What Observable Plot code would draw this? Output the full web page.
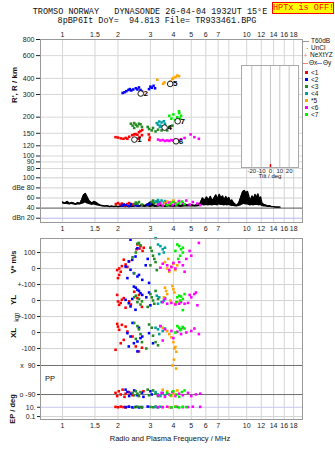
<!DOCTYPE html>
<html><head><meta charset="utf-8">
<script src="https://cdn.jsdelivr.net/npm/d3@7"></script>
<script src="https://cdn.jsdelivr.net/npm/@observablehq/plot@0.6"></script>
<style>
body{margin:0;background:#fff;}
#root{position:relative;width:335px;height:451px;overflow:hidden;font-family:"Liberation Sans",Arial,sans-serif;color:#111;}
#root svg{position:absolute;}
.t{position:absolute;white-space:pre;line-height:1;}
</style></head><body><div id="root"></div>
<script>
// ---------- data ----------
const seriesNames = ["<1","<2","<3","<4","*5","<6","<7"];
const seriesColors = ["#ff0000","#0000ff","#228b22","#00a0a0","#ffa500","#ff00ff","#00ee00"];
const freqTicksTop = [1,1.5,2,3,4,5,6,7,8,10,12,14,16,18];
const freqTicksMid = [1,1.5,2,3,4,5,6,7,8,9,10,12,14,16,18];
const freqGrid = [1,1.5,2,3,4,5,6,7,8,10,12,14,16,18];
const rangeTicks = [800,600,400,300,200,150,120,100,90,80];
const dbTicks = [100,80,60,40,20];
const dbTickLabels = ["100","dBe 80","60","40","dBn 20"];
const tiltTicks = [-20,-10,0,10,20];
const tiltValues = [0];

// virtual R' (km) per series: [series, f MHz, R km]
const rangeData = [
 [1,1.94,140],[1,2.0,139],[1,2.07,137],[1,2.14,136],[1,2.2,138],[1,2.25,136],[1,2.3,141],[1,2.39,145],[1,2.45,147],[1,2.49,148],[1,2.55,146],[1,2.6,153],[1,2.65,156],[1,2.71,159],[1,2.62,140],[1,2.7,145],[1,2.94,147],[1,2.98,139],[1,2.96,133],[1,2.58,136],
 [2,2.12,308],[2,2.17,312],[2,2.22,318],[2,2.28,325],[2,2.32,330],[2,2.36,322],[2,2.5,335],[2,2.55,328],[2,2.6,340],[2,2.65,325],[2,2.7,316],[2,2.95,330],[2,3.0,345],[2,3.05,338],[2,3.12,350],[2,3.18,335],[2,2.42,328],
 [3,2.35,178],[3,2.4,172],[3,2.45,180],[3,2.5,175],[3,2.55,170],[3,2.6,178],[3,2.65,176],[3,2.7,168],[3,2.45,165],[3,2.9,168],[3,2.95,162],[3,3.05,158],[3,3.1,165],[3,3.2,155],[3,3.3,160],[3,3.45,158],[3,3.6,162],[3,3.8,168],[3,3.95,172],[3,3.7,158],
 [4,3.25,180],[4,3.3,175],[4,3.35,185],[4,3.4,172],[4,3.45,182],[4,3.5,170],[4,3.55,186],[4,3.6,178],[4,3.38,168],
 [5,3.27,390],[5,3.52,363],[5,3.58,372],[5,3.86,379],[5,3.94,396],[5,4.11,410],[5,4.29,416],[5,4.2,420],[5,4.0,402],
 [6,3.3,134],[6,3.4,132],[6,3.5,133],[6,3.6,131],[6,3.7,132],[6,3.8,131],[6,3.9,133],[6,4.0,132],[6,4.1,134],[6,4.25,133],[6,4.4,135],[6,4.6,138],[6,4.96,147],[6,5.2,140],[6,5.5,136],
 [7,3.8,205],[7,3.9,195],[7,4.0,210],[7,4.1,190],[7,4.2,200],[7,4.3,215],[7,4.35,195],[7,4.4,205],[7,4.2,185],[7,4.29,222]
];
// trace labels: [series, f, R]
const traceLabels = [[1,2.55,134],[2,2.76,305],[4,3.72,166],[5,3.99,362],[6,4.29,130],[7,4.38,186]];

// noise (black) amplitude envelope
const noiseF  = [1.00,1.03,1.06,1.09,1.12,1.15,1.18,1.21,1.24,1.27,1.30,1.33,1.36,1.39,1.42,1.45,1.48,1.51,1.55,1.60,1.65,1.70,1.75,1.80,1.85,1.90,1.95,2.00,2.1,2.2,2.3,2.4,2.5,2.6,2.7,2.8,2.9,3.0,3.1,3.2,3.4,3.6,3.8,4.0,4.2,4.4,4.6,4.8,5.0,5.2,5.4,5.6,5.75,5.9,6.05,6.2,6.35,6.5,6.65,6.8,6.95,7.1,7.25,7.4,7.55,7.7,7.85,8.0,8.15,8.3,8.5,8.7,8.9,9.1,9.3,9.5,9.7,9.9,10.1,10.3,10.5,10.7,10.9,11.1,11.3,11.5,11.7,11.9,12.1,12.4,12.7,13.0,13.3,13.6,14.0,14.4,14.8,15.2];
const noiseHi = [52,50,53,49,51,50,48,51,49,56,66,69,62,55,52,50,53,52,49,46,45,44,45,43,44,43,44,43,44,43,45,44,46,44,47,45,48,52,47,45,46,44,46,45,47,45,48,46,47,45,47,50,60,55,62,56,63,54,60,66,58,67,60,64,55,63,57,61,53,56,50,47,46,52,62,72,75,70,73,62,55,64,58,67,60,68,58,62,50,47,46,44,45,43,43,42,42,42];
const noiseLo = [48,47,47,46,47,46,45,46,46,47,48,50,48,47,46,45,46,45,44,43,42,42,42,41,42,41,41,41,41,41,41,41,42,41,42,41,42,41,42,41,42,41,42,41,42,41,42,42,42,42,42,43,45,44,45,44,45,44,45,45,44,46,45,45,44,45,44,45,44,43,43,42,42,43,44,46,47,46,46,45,44,45,44,45,45,45,44,45,43,42,42,41,41,41,41,40,40,40];

// echo amplitudes: [series, f, dB]
const ampData = [
 [1,1.95,48],[1,2.0,50],[1,2.05,47],[1,2.1,49],[1,2.15,46],[1,2.25,48],[1,2.3,50],[1,2.4,47],[1,2.2,45],
 [2,2.1,45],[2,2.15,47],[2,2.2,46],[2,2.3,44],[2,2.35,48],[2,2.45,46],[2,2.55,45],[2,2.9,47],[2,3.0,49],
 [3,2.45,48],[3,2.5,51],[3,2.55,49],[3,2.6,52],[3,2.7,47],[3,3.05,52],[3,3.1,55],[3,3.15,50],[3,3.25,53],[3,3.3,49],
 [4,3.2,53],[4,3.3,56],[4,3.35,52],[4,3.45,55],[4,3.55,51],[4,3.6,54],
 [5,3.6,50],[5,3.7,53],[5,3.8,48],[5,3.9,52],[5,4.0,55],[5,4.1,50],[5,4.25,53],
 [6,3.3,47],[6,3.4,50],[6,3.5,45],[6,3.65,48],[6,3.8,51],[6,3.95,46],[6,4.1,49],[6,4.3,54],[6,4.5,50],[6,4.7,55],[6,4.9,47],[6,5.1,52],[6,5.4,49],[6,5.6,46],
 [7,3.7,46],[7,3.85,49],[7,4.0,52],[7,4.15,47],[7,4.3,50],[7,4.45,53],[7,4.6,48]
];

// Doppler V* (m/s): [series, f, V*]
const vStarData = [
 [1,2.52,120],[1,2.62,125],[1,2.72,110],[1,2.76,130],[1,2.65,140],[1,2.55,150],[1,2.2,25],[1,2.25,10],[1,2.1,15],[1,2.03,0],[1,1.98,-10],[1,2.03,-40],[1,2.0,-60],[1,2.07,-20],[1,2.3,45],[1,2.15,55],
 [2,2.34,180],[2,2.55,127],[2,2.49,75],[2,2.39,54],[2,2.29,44],[2,2.2,12],[2,2.34,-8],[2,2.44,-29],[2,2.55,-50],[2,2.6,-40],[2,2.71,-71],[2,2.25,-60],[2,2.83,20],[2,2.95,-90],[2,2.9,60],
 [3,2.55,155],[3,2.6,160],[3,2.65,145],[3,2.5,100],[3,2.4,70],[3,3.0,130],[3,3.05,110],[3,3.1,80],[3,3.15,60],[3,3.2,40],[3,3.0,20],[3,3.25,-10],[3,2.45,-30],
 [4,3.2,190],[4,3.3,150],[4,3.4,140],[4,3.5,120],[4,3.55,100],[4,3.6,130],[4,3.35,90],
 [5,3.6,40],[5,3.7,0],[5,3.8,-20],[5,3.9,10],[5,4.0,30],[5,4.1,-10],[5,3.75,60],[5,4.2,20],
 [6,3.5,30],[6,3.7,20],[6,3.9,10],[6,4.1,0],[6,4.3,40],[6,4.5,20],[6,4.7,60],[6,4.9,110],[6,5.5,160],[6,3.4,5],[6,3.8,-10],[6,4.0,35],[6,4.6,-20],[6,5.0,80],
 [7,4.2,150],[7,4.3,140],[7,4.4,120],[7,4.5,100],[7,4.35,80],[7,4.25,60],[7,4.5,130],[7,4.1,110]
];
// YL (m/s)
const ylData = [
 [1,1.98,35],[1,2.0,-6],[1,2.03,-27],[1,2.07,-15],[1,2.1,5],[1,2.15,15],[1,2.3,-5],[1,2.35,-25],[1,2.55,15],[1,2.6,35],[1,2.45,55],[1,2.7,-40],[1,2.2,-45],
 [2,2.44,87],[2,2.5,80],[2,2.55,67],[2,2.6,60],[2,2.65,46],[2,2.71,35],[2,2.2,4],[2,2.29,-17],[2,2.34,-37],[2,2.49,-58],[2,2.39,10],[2,2.95,50],[2,3.0,-30],[2,2.85,20],
 [3,2.5,30],[3,2.6,10],[3,2.55,-10],[3,2.65,-25],[3,2.7,-5],[3,2.45,20],[3,3.0,40],[3,3.05,20],[3,3.1,0],[3,3.15,-20],[3,3.2,60],[3,2.9,-40],[3,3.3,10],
 [4,3.25,30],[4,3.35,20],[4,3.45,-10],[4,3.55,0],[4,3.3,-20],[4,3.6,15],
 [5,3.6,80],[5,3.65,60],[5,3.7,40],[5,3.95,90],[5,4.0,70],[5,4.05,50],[5,3.85,0],[5,4.1,-20],[5,3.55,20],[5,4.2,-10],
 [6,3.5,-10],[6,3.7,-20],[6,3.9,-15],[6,4.1,-25],[6,4.3,-20],[6,4.6,-20],[6,4.8,-15],[6,5.0,20],[6,5.2,40],[6,5.3,50],[6,4.9,35],[6,5.4,-30],[6,3.6,10],[6,4.4,-10],
 [7,4.2,20],[7,4.3,30],[7,4.4,25],[7,4.5,10],[7,4.35,0],[7,4.6,40],[7,4.15,-10],[7,4.5,-60]
];
// XL (m/s)
const xlData = [
 [1,1.98,54],[1,2.0,37],[1,2.03,17],[1,2.1,48],[1,2.2,37],[1,2.25,6],[1,1.94,-108],[1,2.07,-67],[1,2.15,-46],[1,2.4,-25],[1,2.5,-87],[1,2.6,-118],[1,2.7,-95],
 [2,2.25,-4],[2,2.34,-25],[2,2.44,-67],[2,2.55,-56],[2,2.65,-35],[2,2.29,-87],[2,2.55,-118],[2,2.71,-25],[2,2.95,-4],[2,3.1,-67],[2,2.4,60],[2,2.6,30],
 [3,2.45,60],[3,2.55,40],[3,2.6,20],[3,2.65,-10],[3,2.5,-40],[3,2.7,-60],[3,2.95,50],[3,3.05,30],[3,3.1,-20],[3,3.2,-60],[3,3.3,-80],[3,2.85,-100],
 [4,3.2,30],[4,3.3,20],[4,3.4,40],[4,3.5,10],[4,3.6,25],[4,3.35,-10],
 [5,3.5,30],[5,3.7,10],[5,3.8,-10],[5,3.9,-30],[5,4.0,-60],[5,4.1,-90],[5,4.05,-100],[5,4.15,-120],
 [6,3.4,40],[6,3.6,20],[6,3.9,10],[6,4.2,5],[6,4.4,-10],[6,4.7,0],[6,5.0,10],[6,5.2,25],[6,5.5,-10],[6,4.0,-35],[6,3.5,-50],[6,4.5,30],
 [7,4.2,40],[7,4.3,30],[7,4.4,20],[7,4.5,35],[7,4.6,25],[7,4.35,15],[7,4.1,0]
];
// polarization PP (deg)
const ppData = [
 [1,1.94,-80],[1,1.98,-100],[1,2.02,-70],[1,2.07,-90],[1,2.12,-60],[1,2.17,-105],[1,2.2,-85],[1,2.3,-75],[1,2.4,-95],[1,2.75,-70],
 [2,2.2,-60],[2,2.25,-75],[2,2.3,-100],[2,2.35,-85],[2,2.45,-65],[2,2.55,-95],[2,2.7,-80],[2,2.75,-105],[2,3.0,-70],[2,3.05,-90],
 [3,2.4,-80],[3,2.45,-95],[3,2.5,-70],[3,2.55,-85],[3,2.6,-100],[3,2.65,-75],[3,2.9,-60],[3,2.95,-95],[3,3.1,-65],[3,3.2,-85],[3,3.3,-100],
 [4,3.2,-75],[4,3.3,-90],[4,3.4,-100],[4,3.5,-80],[4,3.6,-95],
 [5,3.5,-60],[5,3.7,-70],[5,3.9,-100],[5,4.0,-85],[5,4.2,-65],[5,4.03,128],[5,3.96,91],[5,4.14,72],
 [6,3.3,-95],[6,3.45,-80],[6,3.6,-105],[6,3.8,-90],[6,3.95,-75],[6,4.1,-100],[6,4.3,-85],[6,4.5,-95],[6,4.8,-80],[6,5.0,-100],[6,5.3,-90],[6,5.6,-85],
 [7,3.7,-80],[7,3.85,-95],[7,4.0,-70],[7,4.15,-90],[7,4.3,-105],[7,4.45,-75],[7,4.6,-65]
];
// EP (deg)
const epData = [
 [1,1.94,12],[1,2.0,10],[1,2.07,14],[1,2.14,11],[1,2.2,9],[1,2.28,13],[1,2.4,10],
 [2,2.2,11],[2,2.3,13],[2,2.4,10],[2,2.5,12],[2,2.6,9],[2,2.7,11],[2,2.9,14],
 [3,2.45,10],[3,2.55,13],[3,2.65,11],[3,2.7,9],[3,3.0,12],[3,3.1,10],[3,3.2,14],
 [4,3.2,11],[4,3.3,9],[4,3.4,13],
 [5,3.5,12],[5,3.8,10],[5,4.1,14],
 [6,3.3,11],[6,3.5,10],[6,3.7,13],[6,3.9,9],[6,4.2,12],[6,4.5,10],[6,4.8,11],[6,5.1,13],[6,5.6,12],
 [7,3.9,10],[7,4.1,12],[7,4.3,9],[7,4.5,13],[7,4.7,11]
];
// lower panel tick labels (composite axis)
const lowTicks = [100,0,-100,-200,-300,-400,-500,-606,-787.5,-867,-925];
const lowTickLabels = ["100","0","+-100","0","+-100","0","-100","x  90","o -90","10.","0.1"];

// ---------- layout ----------
const root = document.getElementById("root");
const FONT = "Liberation Sans, Arial, sans-serif";
const xDomain = [0.759, 20.1];
const colorScale = {type: "ordinal", domain: [1,2,3,4,5,6,7], range: seriesColors};
const baseStyle = {fontSize: "7px", fontFamily: FONT, color: "#222", background: "transparent", overflow: "visible"};
const sq = (data, y, extra = {}) => Plot.dot(data, {x: d => d[1], y, fill: d => d[0], symbol: "square", r: 1.45, stroke: null, ...extra});

function place(el, left, top) { el.style.left = left + "px"; el.style.top = top + "px"; root.appendChild(el); }
function text(str, x, y, opts = {}) {
  const s = document.createElement("div");
  s.className = "t";
  s.textContent = str;
  s.style.fontSize = (opts.size || 8) + "px";
  s.style.fontFamily = opts.font || FONT;
  if (opts.color) s.style.color = opts.color;
  if (opts.weight) s.style.fontWeight = opts.weight;
  const tx = opts.anchor === "start" ? "0" : opts.anchor === "end" ? "-100%" : "-50%";
  s.style.transform = `translate(${tx},-50%)`;
  if (opts.rotate) { s.style.transform = `translate(-50%,-50%) rotate(${opts.rotate}deg)`; s.style.transformOrigin = "50% 50%"; }
  place(s, x, y);
  return s;
}

// Plot A: R' panel
const plotA = Plot.plot({
  width: 335, height: 172, marginLeft: 40, marginRight: 33, marginTop: 39, marginBottom: 0,
  style: baseStyle,
  x: {type: "log", domain: xDomain, axis: "top", ticks: freqTicksTop, tickFormat: d => String(d), tickSize: 0, tickPadding: 3, label: null},
  y: {type: "log", domain: [74.5, 800], ticks: rangeTicks, tickFormat: d => String(d), tickSize: 4, tickPadding: 2, label: null},
  color: colorScale,
  marks: [
    Plot.ruleX(freqGrid, {stroke: "#d4d4d4"}),
    Plot.ruleY(rangeTicks, {stroke: "#d8d8d8"}),
    sq(rangeData, d => d[2]),
    Plot.dot(traceLabels, {x: d => d[1], y: d => d[2], r: 2.8, stroke: "#000", fill: "white", strokeWidth: 0.9, dx: -3}),
    Plot.text(traceLabels, {x: d => d[1], y: d => d[2], text: d => String(d[0]), fill: "#000", fontSize: 8, dx: 2, fontWeight: "bold"})
  ]
});
place(plotA, 0, 0);

// Plot B: amplitude panel
const plotB = Plot.plot({
  width: 335, height: 60, marginLeft: 40, marginRight: 33, marginTop: 0, marginBottom: 10,
  style: baseStyle,
  x: {type: "log", domain: xDomain, ticks: freqTicksMid, tickFormat: d => String(d), tickSize: 0, tickPadding: 4, label: null},
  y: {domain: [11.5, 110.5], ticks: dbTicks, tickFormat: d => dbTickLabels[dbTicks.indexOf(d)], tickSize: 4, tickPadding: 2, label: null},
  color: colorScale,
  marks: [
    Plot.ruleX(freqGrid, {stroke: "#d4d4d4"}),
    Plot.ruleY([100, 80, 60], {stroke: "#d0d0d0"}),
    Plot.ruleY([20], {stroke: "#b4b4ee"}),
    Plot.ruleY([40], {stroke: "#555"}),
    Plot.areaY(noiseF.map((f, i) => [f, noiseLo[i], noiseHi[i]]), {x: d => d[0], y1: d => d[1], y2: d => d[2], fill: "#000"}),
    Plot.line(noiseF.map((f, i) => [f, noiseHi[i]]), {x: d => d[0], y: d => d[1], stroke: "#000", strokeWidth: 1.4}),
    sq(ampData, d => d[2])
  ]
});
place(plotB, 0, 172);

// frame around A+B
const fr = document.createElement("div");
fr.style.cssText = "position:absolute;box-sizing:border-box;border:1px solid #999;width:263px;height:184px;pointer-events:none;";
place(fr, 40, 39);

// Inset: tilt
const inset = Plot.plot({
  width: 63, height: 120, marginLeft: 3, marginRight: 3, marginTop: 3, marginBottom: 15,
  style: {...baseStyle, fontSize: "6px"},
  x: {domain: [-31, 30], ticks: tiltTicks, tickFormat: d => String(d), tickSize: 0, tickPadding: 1, label: null},
  y: {domain: [0, 100], axis: null},
  marks: [
    Plot.frame({fill: "white", stroke: null}),
    Plot.ruleX(tiltTicks, {stroke: "#c4c4c4"}),
    Plot.ruleX(tiltValues, {y1: 0, y2: 3, stroke: "#e00000", strokeWidth: 1.5}),
    Plot.frame({stroke: "#aaa"})
  ]
});
place(inset, 238, 62);
text("Tilt / deg", 270, 175.5, {size: 6});

// Plot C: Doppler / PP / EP
const plotC = Plot.plot({
  width: 335, height: 219, marginLeft: 40, marginRight: 33, marginTop: 6, marginBottom: 32,
  style: baseStyle,
  x: {type: "log", domain: xDomain, ticks: freqTicksTop, tickFormat: d => String(d), tickSize: 0, tickPadding: 4, label: null},
  y: {domain: [-943.5, 187.5], ticks: lowTicks, tickFormat: d => lowTickLabels[lowTicks.indexOf(d)], tickSize: 3, tickPadding: 2, label: null},
  color: colorScale,
  marks: [
    Plot.ruleX(freqGrid, {stroke: "#d4d4d4"}),
    Plot.ruleY([100, 0, -100, -200, -300, -400, -500], {stroke: "#d4d4d4"}),
    Plot.ruleY([-606, -787.5], {stroke: "#707070"}),
    Plot.ruleY([-867], {stroke: "#c8c8ee"}),
    Plot.ruleY([-925], {stroke: "#d4d4d4"}),
    sq(vStarData, d => d[2]),
    sq(ylData, d => d[2] - 200),
    sq(xlData, d => d[2] - 400),
    sq(ppData, d => -697 + d[2]),
    sq(epData, d => -896 + 29 * Math.log10(d[2])),
    Plot.frame({stroke: "#999"})
  ]
});
place(plotC, 0, 232);

// ---------- texts ----------
const MONO = "Liberation Mono, DejaVu Sans Mono, monospace";
text("TROMSO NORWAY   DYNASONDE 26-04-04 1932UT 15°E", 150, 12, {size: 8.5, font: MONO});
text("8pBP6It DoY=  94.813 File= TR933461.BPG", 157, 20.5, {size: 8.5, font: MONO});
const hp = document.createElement("div");
hp.textContent = "HPTx is OFF!";
hp.style.cssText = `position:absolute;box-sizing:border-box;width:62px;height:12px;background:#ffff00;border:1px solid #ff0000;color:#ff0000;font:8.5px ${MONO};line-height:10px;text-align:center;white-space:pre;`;
place(hp, 272, 2);

text("R', R / km", 15, 85, {size: 8, rotate: -90, weight: "bold"});
text("V* m/s", 14, 262, {size: 7.5, rotate: -90, weight: "bold"});
text("YL", 14, 300, {size: 8, rotate: -90, weight: "bold"});
text("km", 16, 317, {size: 7, rotate: -90});
text("XL", 14, 333, {size: 8, rotate: -90, weight: "bold"});
text("PP", 45, 379, {size: 7.5, anchor: "start"});
text("EP / deg", 13, 409, {size: 7.5, rotate: -90, weight: "bold"});
text("Radio and Plasma Frequency / MHz", 170, 438.5, {size: 7.5});

// legend
function line(x, y, w, color) {
  const d = document.createElement("div");
  d.style.cssText = `position:absolute;width:${w}px;height:1px;background:${color};`;
  place(d, x, y);
}
line(303, 41, 6, "#999");
text("T60dB", 311, 41, {size: 6.5, anchor: "start"});
text("·", 306, 47.5, {size: 7, anchor: "start"});
text("UnCl", 311, 48, {size: 6.5, anchor: "start"});
text("+", 303.5, 55, {size: 7, anchor: "start", color: "#f08080"});
text("NeXtYZ", 310, 55, {size: 6.5, anchor: "start"});
line(303, 63, 5, "#f08080");
text("Θx", 309, 63, {size: 6.5, anchor: "start"});
line(317, 63, 5, "#8080f0");
text("Θy", 323, 63, {size: 6.5, anchor: "start"});
seriesNames.forEach((n, i) => {
  const y = 72.7 + i * 7;
  const b = document.createElement("div");
  b.style.cssText = `position:absolute;width:3px;height:3px;background:${seriesColors[i]};`;
  place(b, 305, y - 1.5);
  text(n, 311, y, {size: 6.5, anchor: "start"});
});
</script></body></html>
